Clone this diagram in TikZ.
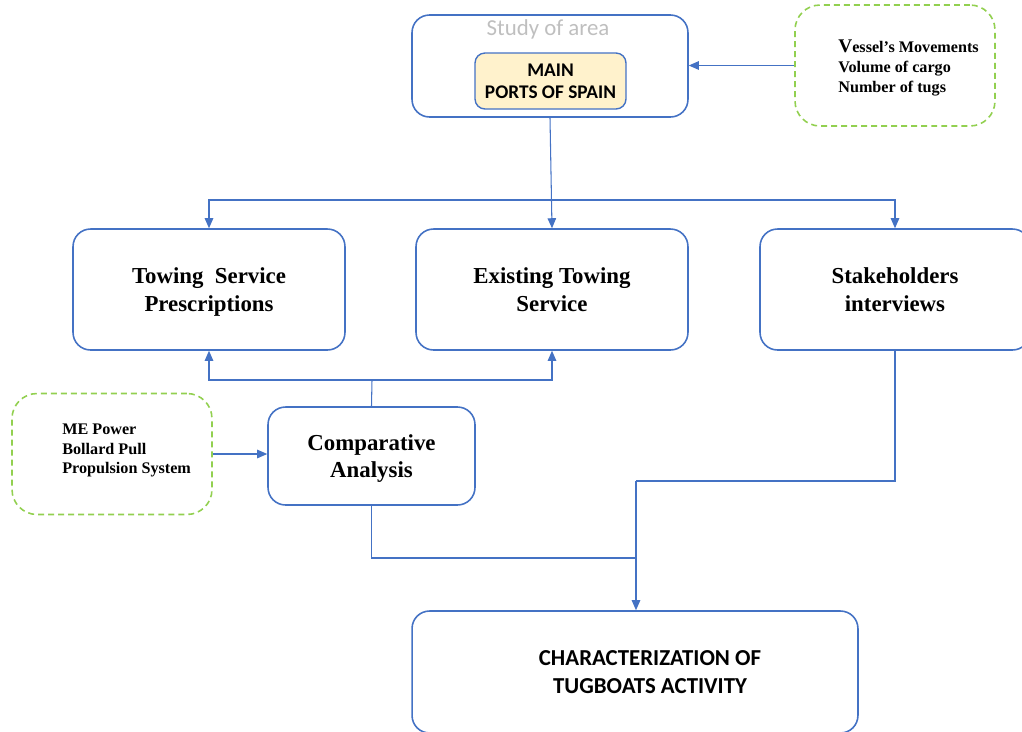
\documentclass[tikz,border=0pt]{standalone}
\usepackage{fontspec}
\setmainfont{Liberation Serif}
\newfontfamily\calibri{Carlito}
\usetikzlibrary{positioning}
\usetikzlibrary{arrows.meta}

\definecolor{boxblue}{HTML}{4472C4}
\definecolor{notegreen}{HTML}{92D050}
\definecolor{portfill}{HTML}{FFF2CC}
\definecolor{titlegray}{HTML}{BFBFBF}

\tikzset{
  stage/.style={draw=boxblue, line width=0.9pt, rounded corners=0.35cm, align=center,
    inner sep=0pt, text depth=0pt, font=\fontsize{13}{15.5}\selectfont\bfseries},
  capsstage/.style={stage, font=\calibri\fontsize{13}{15.5}\selectfont\bfseries},
  note/.style={draw=notegreen, line width=0.9pt, dash pattern=on 3.4pt off 2.3pt,
    rounded corners=0.5cm, minimum width=4cm, minimum height=2.42cm},
  notetext/.style={anchor=west, align=left, inner sep=0pt,
    font=\fontsize{9.2}{11.2}\selectfont\bfseries},
  ports/.style={draw=boxblue, fill=portfill, line width=0.8pt, rounded corners=0.2cm,
    align=center, minimum width=3.02cm, minimum height=1.12cm, inner sep=0pt,
    font=\calibri\fontsize{11}{12.5}\selectfont\bfseries},
  link/.style={draw=boxblue, line width=0.6pt},
  arr/.style={link, -{Triangle[length=2mm,width=1.7mm]}},
}

\begin{document}
\begin{tikzpicture}[x=0.02cm, y=-0.02cm]
\useasboundingbox (0,0) rectangle (1022,731);
\clip (0,0) rectangle (1022,731);

% study of area
\node[stage, minimum width=5.52cm, minimum height=2.04cm] (study) at (550,66) {};
\node[text=titlegray, inner sep=0pt, font=\calibri\fontsize{13}{15}\selectfont] (studytitle) at (548,29) {Study of area};
\node[ports] (mainports) at (550.5,81) {MAIN\\PORTS OF SPAIN};

% notes
\node[note] (facts) at (895,65.5) {};
\node[notetext] (factstext) at (838,68) {{\fontsize{11}{11}\selectfont V}essel’s Movements\\Volume of cargo\\Number of tugs};
\node[note] (specs) at (112,454) {};
\node[notetext] (specstext) at (62,450.5) {ME Power\\Bollard Pull\\Propulsion System};

% middle row
\node[stage, minimum width=5.44cm, minimum height=2.42cm] (towing) at (209,289.5) {Towing\ \ Service\\Prescriptions};
\node[stage, minimum width=5.44cm, minimum height=2.42cm] (existing) at (552,289.5) {Existing Towing\\Service};
\node[stage, minimum width=5.4cm, minimum height=2.42cm] (stake) at (895,289.5) {Stakeholders\\interviews};

\node[stage, minimum width=4.14cm, minimum height=1.96cm] (comp) at (371.5,456) {Comparative\\Analysis};

\node[capsstage, minimum width=8.92cm, minimum height=2.44cm] (result) at (635,672) {\hspace*{0.6cm}CHARACTERIZATION OF\\\hspace*{0.6cm}TUGBOATS ACTIVITY};

% connectors
\coordinate (split) at (552,200);
\coordinate (cmpup) at (372,380);
\coordinate (join) at (636,558);
\coordinate (bend) at (636,481);

\draw[arr] (facts.west) -- (facts.west -| study.east);
\draw[arr] (study.south) -- (existing.north);
\draw[arr] (split) -| (towing.north);
\draw[arr] (split) -| (stake.north);

\draw[link] (comp.north) -- (cmpup);
\draw[arr] (cmpup) -| (towing.south);
\draw[arr] (cmpup) -| (existing.south);
\draw[arr] (specs.east) -- (specs.east -| comp.west);

\draw[link] (comp.south) |- (join);
\draw[link] (stake.south) |- (bend);
\draw[arr] (bend) -- (bend |- result.north);

\end{tikzpicture}
\end{document}
